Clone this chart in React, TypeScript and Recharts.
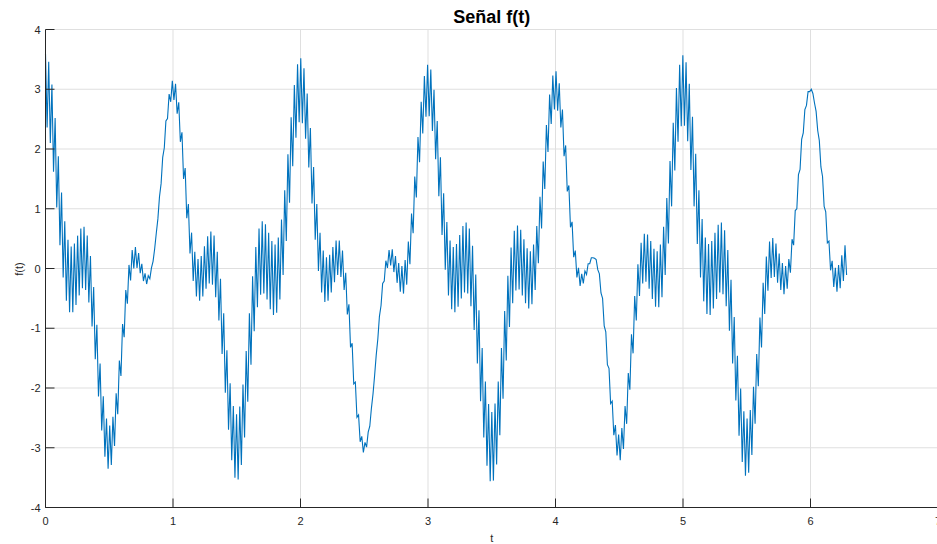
import React from 'react';
import { LineChart, Line, XAxis, YAxis, CartesianGrid } from 'recharts';

// Time span of the sampled signal (0 .. 2π), 500 samples
const T_START = 0;
const T_END = 6.2832;

// Signal values f(t) (500 samples)
const fValues: number[] = [
  3.60, 2.36, 3.46, 2.10, 3.08, 1.62, 2.52, 1.02, 1.88, 0.39,
  1.27, -0.15, 0.79, -0.54, 0.48, -0.73, 0.37, -0.73, 0.42, -0.61,
  0.55, -0.45, 0.67, -0.33, 0.70, -0.36, 0.55, -0.57, 0.21, -0.97,
  -0.31, -1.52, -0.94, -2.14, -1.59, -2.71, -2.14, -3.15, -2.51, -3.35,
  -2.63, -3.29, -2.48, -2.97, -2.09, -2.44, -1.54, -1.80, -0.93, -1.15,
  -0.36, -0.59, 0.06, -0.20, 0.31, 0.00, 0.36, 0.01, 0.26, -0.08,
  0.08, -0.21, -0.08, -0.26, -0.12, -0.17, 0.01, 0.12, 0.33, 0.59,
  0.83, 1.20, 1.42, 1.86, 2.02, 2.47, 2.51, 2.92, 2.79, 3.14,
  2.82, 3.09, 2.59, 2.78, 2.12, 2.28, 1.50, 1.68, 0.84, 1.08,
  0.25, 0.60, -0.21, 0.28, -0.47, 0.16, -0.54, 0.21, -0.47, 0.37,
  -0.34, 0.54, -0.25, 0.62, -0.27, 0.55, -0.48, 0.28, -0.87, -0.17,
  -1.43, -0.75, -2.08, -1.37, -2.70, -1.92, -3.21, -2.30, -3.50, -2.44,
  -3.53, -2.31, -3.29, -1.94, -2.83, -1.38, -2.23, -0.75, -1.61, -0.13,
  -1.05, 0.36, -0.65, 0.67, -0.44, 0.79, -0.42, 0.74, -0.52, 0.60,
  -0.68, 0.46, -0.78, 0.40, -0.74, 0.52, -0.52, 0.82, -0.11, 1.31,
  0.46, 1.91, 1.10, 2.53, 1.71, 3.07, 2.19, 3.42, 2.45, 3.52,
  2.43, 3.35, 2.17, 2.93, 1.69, 2.35, 1.09, 1.70, 0.48, 1.08,
  -0.04, 0.60, -0.40, 0.30, -0.56, 0.19, -0.54, 0.23, -0.40, 0.36,
  -0.23, 0.47, -0.11, 0.47, -0.14, 0.30, -0.36, -0.07, -0.77, -0.60,
  -1.32, -1.25, -1.93, -1.90, -2.49, -2.45, -2.90, -2.81, -3.08, -2.91,
  -2.99, -2.74, -2.64, -2.34, -2.10, -1.79, -1.45, -1.18, -0.80, -0.62,
  -0.25, -0.21, 0.13, 0.01, 0.31, 0.05, 0.32, -0.06, 0.21, -0.24,
  0.09, -0.39, 0.04, -0.42, 0.14, -0.27, 0.45, 0.07, 0.92, 0.59,
  1.54, 1.19, 2.20, 1.78, 2.79, 2.26, 3.22, 2.54, 3.41, 2.55,
  3.33, 2.30, 2.99, 1.83, 2.47, 1.21, 1.86, 0.56, 1.26, -0.02,
  0.78, -0.45, 0.47, -0.68, 0.36, -0.73, 0.41, -0.64, 0.56, -0.50,
  0.71, -0.40, 0.77, -0.42, 0.67, -0.63, 0.38, -1.03, -0.10, -1.59,
  -0.70, -2.22, -1.33, -2.83, -1.89, -3.30, -2.27, -3.56, -2.40, -3.55,
  -2.26, -3.28, -1.89, -2.79, -1.33, -2.18, -0.71, -1.54, -0.12, -0.98,
  0.35, -0.58, 0.63, -0.37, 0.72, -0.35, 0.65, -0.45, 0.49, -0.58,
  0.34, -0.67, 0.29, -0.60, 0.40, -0.36, 0.71, 0.09, 1.20, 0.67,
  1.79, 1.33, 2.40, 1.95, 2.91, 2.42, 3.23, 2.66, 3.30, 2.64,
  3.10, 2.36, 2.66, 1.88, 2.06, 1.29, 1.39, 0.69, 0.78, 0.19,
  0.30, -0.15, 0.01, -0.29, -0.09, -0.25, -0.04, -0.10, 0.08, 0.08,
  0.18, 0.18, 0.17, 0.15, -0.02, -0.09, -0.41, -0.50, -0.96, -1.06,
  -1.61, -1.67, -2.26, -2.22, -2.79, -2.62, -3.13, -2.78, -3.21, -2.67,
  -3.02, -2.30, -2.60, -1.75, -2.03, -1.10, -1.42, -0.46, -0.87, 0.07,
  -0.46, 0.43, -0.25, 0.58, -0.22, 0.57, -0.34, 0.46, -0.51, 0.33,
  -0.64, 0.29, -0.65, 0.40, -0.48, 0.70, -0.11, 1.18, 0.42, 1.80,
  1.04, 2.44, 1.64, 3.02, 2.12, 3.41, 2.38, 3.57, 2.39, 3.45,
  2.13, 3.09, 1.65, 2.54, 1.04, 1.92, 0.41, 1.31, -0.15, 0.83,
  -0.55, 0.52, -0.76, 0.41, -0.78, 0.46, -0.67, 0.60, -0.51, 0.73,
  -0.40, 0.77, -0.43, 0.64, -0.63, 0.31, -1.04, -0.19, -1.59, -0.81,
  -2.21, -1.46, -2.80, -2.01, -3.24, -2.39, -3.47, -2.51, -3.42, -2.37,
  -3.12, -1.98, -2.60, -1.43, -1.97, -0.82, -1.32, -0.24, -0.76, 0.20,
  -0.37, 0.45, -0.16, 0.51, -0.14, 0.42, -0.24, 0.25, -0.36, 0.09,
  -0.43, 0.04, -0.34, 0.16, -0.07, 0.49, 0.39, 0.97, 1.00, 1.57,
  1.66, 2.16, 2.27, 2.66, 2.73, 2.96, 2.96, 3.00, 2.93, 2.77,
  2.63, 2.31, 2.14, 1.70, 1.54, 1.04, 0.95, 0.43, 0.46, -0.03,
  0.13, -0.31, 0.01, -0.39, 0.06, -0.33, 0.22, -0.21, 0.39, -0.11,
];

const xTicks = [0, 1, 2, 3, 4, 5, 6, 7];
const yTicks = [-4, -3, -2, -1, 0, 1, 2, 3, 4];

const data = fValues.map((f, i) => ({
  t: T_START + (i * (T_END - T_START)) / (fValues.length - 1),
  f,
}));

const AXIS = '#262626';
const GRID = '#dfdfdf';
const LINE = '#0072BD';
const FONT = '"Liberation Sans", Arial, Helvetica, sans-serif';
const TICK_LEN = 9;

function BottomTick(props: any) {
  const { x, y, payload } = props;
  return (
    <g>
      <line x1={x} y1={y} x2={x} y2={y - TICK_LEN} stroke={AXIS} strokeWidth={1} />
      <text x={x} y={y + 17.5} textAnchor="middle" fontSize={11} fill={AXIS} fontFamily={FONT}>
        {payload.value}
      </text>
    </g>
  );
}

function TopTick(props: any) {
  const { x, y } = props;
  return <line x1={x} y1={y} x2={x} y2={y + TICK_LEN} stroke={AXIS} strokeWidth={1} />;
}

function LeftTick(props: any) {
  const { x, y, payload } = props;
  return (
    <g>
      <line x1={x} y1={y} x2={x + TICK_LEN} y2={y} stroke={AXIS} strokeWidth={1} />
      <text x={x - 5} y={y + 4} textAnchor="end" fontSize={11} fill={AXIS} fontFamily={FONT}>
        {payload.value}
      </text>
    </g>
  );
}

function RightTick(props: any) {
  const { x, y } = props;
  return <line x1={x} y1={y} x2={x - TICK_LEN} y2={y} stroke={AXIS} strokeWidth={1} />;
}

export default function App() {
  return (
    <div
      style={{
        position: 'fixed',
        left: 0,
        top: 0,
        width: 937,
        height: 544,
        overflow: 'hidden',
        background: '#ffffff',
      }}
    >
      <LineChart
        width={943}
        height={544}
        data={data}
        margin={{ top: 29.5, right: 0, bottom: 0, left: 0.5 }}
      >
        <CartesianGrid xAxisId="b" yAxisId="l" stroke={GRID} strokeWidth={1} />
        <XAxis
          xAxisId="b"
          dataKey="t"
          type="number"
          domain={[0, 7]}
          ticks={xTicks}
          interval={0}
          height={36.5}
          tickSize={0}
          tickMargin={0}
          tickLine={false}
          axisLine={{ stroke: AXIS, strokeWidth: 1 }}
          tick={(p: any) => <BottomTick {...p} />}
        />
        <XAxis
          xAxisId="top"
          orientation="top"
          dataKey="t"
          type="number"
          domain={[0, 7]}
          ticks={xTicks}
          interval={0}
          height={0}
          tickSize={0}
          tickMargin={0}
          tickLine={false}
          axisLine={{ stroke: AXIS, strokeWidth: 1 }}
          tick={(p: any) => <TopTick {...p} />}
        />
        <YAxis
          yAxisId="l"
          type="number"
          domain={[-4, 4]}
          ticks={yTicks}
          interval={0}
          width={45}
          tickSize={0}
          tickMargin={0}
          tickLine={false}
          axisLine={{ stroke: AXIS, strokeWidth: 1 }}
          tick={(p: any) => <LeftTick {...p} />}
        />
        <YAxis
          yAxisId="r"
          orientation="right"
          type="number"
          domain={[-4, 4]}
          ticks={yTicks}
          interval={0}
          width={5}
          tickSize={0}
          tickMargin={0}
          tickLine={false}
          axisLine={{ stroke: AXIS, strokeWidth: 1 }}
          tick={(p: any) => <RightTick {...p} />}
        />
        <Line
          xAxisId="b"
          yAxisId="l"
          type="linear"
          dataKey="f"
          stroke={LINE}
          strokeWidth={1.1}
          dot={false}
          activeDot={false}
          isAnimationActive={false}
        />
      </LineChart>
      <svg
        width={937}
        height={544}
        style={{ position: 'absolute', left: 0, top: 0, pointerEvents: 'none' }}
      >
        <text
          x={491.75}
          y={22.5}
          textAnchor="middle"
          fontSize={18}
          fontWeight="bold"
          fill="#000000"
          fontFamily={FONT}
        >
          Señal f(t)
        </text>
        <text x={491.75} y={542} textAnchor="middle" fontSize={11} fill={AXIS} fontFamily={FONT}>
          t
        </text>
        <text
          x={22.5}
          y={269}
          textAnchor="middle"
          fontSize={11}
          fill={AXIS}
          fontFamily={FONT}
          transform="rotate(-90 22.5 269)"
        >
          f(t)
        </text>
      </svg>
    </div>
  );
}
